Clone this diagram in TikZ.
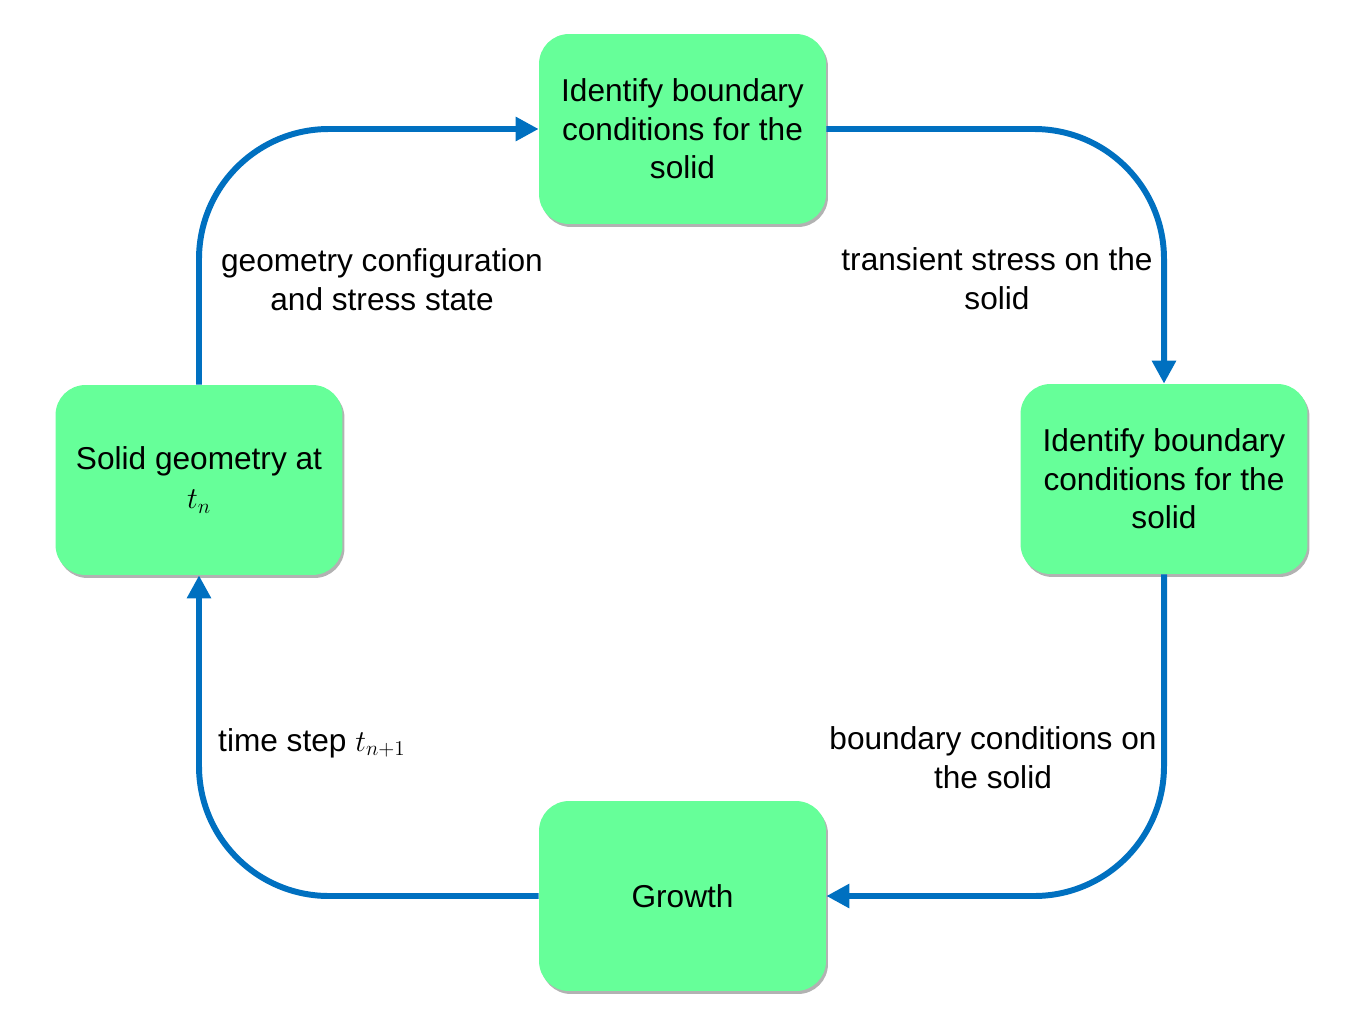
\documentclass[tikz,border=0pt]{standalone}
\usepackage{fontspec}
\setmainfont{Liberation Sans}
\usetikzlibrary{arrows.meta,shadows}
\definecolor{boxgreen}{HTML}{66FF99}
\definecolor{flowblue}{HTML}{0070C0}
\begin{document}
\begin{tikzpicture}[x=0.02cm,y=-0.02cm,
    stagebox/.style={fill=boxgreen,rounded corners=0.6cm,minimum width=5.74cm,minimum height=3.8cm,
        align=center,font=\fontsize{18}{22}\selectfont,
        drop shadow={shadow xshift=0.04cm,shadow yshift=-0.06cm,fill=black,opacity=0.3}},
    flow/.style={draw=flowblue,line width=3.4pt,rounded corners=2.6cm,
        -{Triangle[length=0.46cm,width=0.46cm]}},
    note/.style={align=center,font=\fontsize{18}{22}\selectfont}]
            \useasboundingbox (0,0) rectangle (1365,1024);
            \node[stagebox] at (682.5,129)(bctop){Identify boundary\\conditions for the\\solid};
            \node[stagebox] at (1164,479)(bcright){Identify boundary\\conditions for the\\solid};
            \node[stagebox] at (682.5,896)(growth){Growth};
            \node[stagebox] at (199,480)(geom){Solid geometry at\\$t_n$};
            \path[flow] (geom.north) |- (bctop.west);
            \path[flow] (bctop.east) -| (bcright.north);
            \path[flow] (bcright.south) |- (growth.east);
            \path[flow] (growth.west) -| (geom.south);
            \node[note] at (382,280)(lblgeom){geometry configuration\\and stress state};
            \node[note] at (997,279)(lblstress){transient stress on the\\solid};
            \node[note] at (993,758)(lblbc){boundary conditions on\\the solid};
            \node[note,anchor=west] at (212,743)(lbltime){time step $t_{n+1}$};
        \end{tikzpicture}
\end{document}
